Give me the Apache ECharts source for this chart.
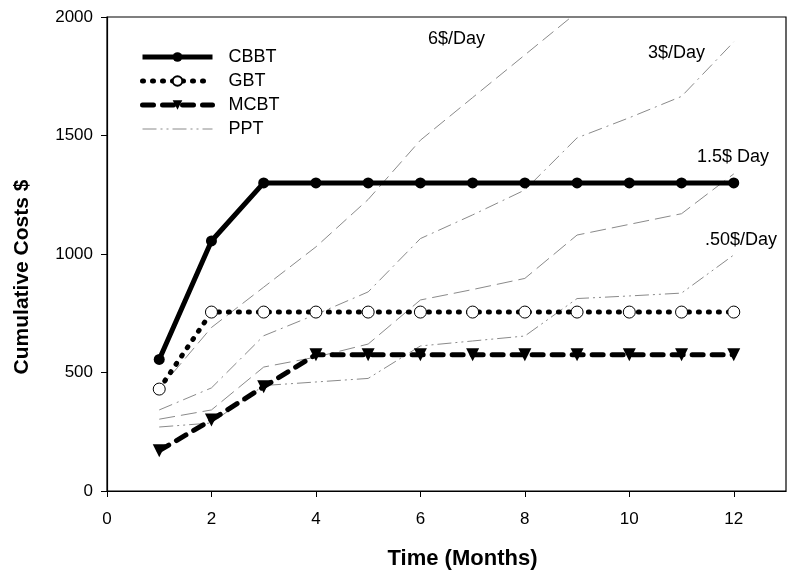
<!DOCTYPE html>
<html><head><meta charset="utf-8">
<script src="https://cdn.jsdelivr.net/npm/echarts@6/dist/echarts.min.js"></script>
<style>html,body{margin:0;padding:0;background:#fff}#c{width:794px;height:579px}</style>
</head><body><div id="c"></div>
<script>
const months = [1,2,3,4,5,6,7,8,9,10,11,12];
const cbbt = [555,1055,1300,1300,1300,1300,1300,1300,1300,1300,1300,1300];
const gbt = [430,755,755,755,755,755,755,755,755,755,755,755];
const mcbt = [170,300,440,575,575,575,575,575,575,575,575,575];
const ppt6 = [430,690,860,1030,1230,1480,1660,1840,2020];
const ppt3 = [342,435,655,745,840,1065,1165,1270,1490,1575,1665,1895];
const ppt15 = [303,342,523,565,620,806,850,897,1080,1125,1170,1338];
const ppt05 = [270,287,445,460,475,612,633,654,812,823,835,996];
const yTicks = [0,500,1000,1500,2000];
const xTicks = [0,2,4,6,8,10,12];
const pptLabels = ['6$/Day','3$/Day','1.5$ Day','.50$/Day'];

const pair = (v) => v.map((y,i)=>[months[i],y]);
const FONT = 'Liberation Sans, Arial, sans-serif';
const grey = '#8a8a8a';
const gbtDash = [1,9];
const mcbtDash = [11,9];
const pptDash = [14,4,2,4,2,4];
const chart = echarts.init(document.getElementById('c'));
chart.setOption({
  animation:false,
  backgroundColor:'#fff',
  textStyle:{fontFamily:FONT},
  grid:{left:107,right:8,top:17,bottom:88,show:true,borderColor:'#000',borderWidth:1.2,backgroundColor:'transparent'},
  legend:{
    left:135, top:43, orient:'vertical', itemWidth:70, itemHeight:12, itemGap:6,
    data:[
      {name:'CBBT',lineStyle:{width:5,color:'#000'}},
      {name:'GBT',lineStyle:{width:5,color:'#000',type:gbtDash,cap:'round'}},
      {name:'MCBT',lineStyle:{width:5,color:'#000',type:mcbtDash,cap:'round'}},
      {name:'PPT',itemStyle:{opacity:0},lineStyle:{width:1,color:grey,type:pptDash}}
    ],
    textStyle:{fontSize:18,color:'#000',fontFamily:FONT,padding:[0,0,0,11]}
  },
  xAxis:{type:'value',min:0,max:13,interval:2,
    name:'Time (Months)',nameLocation:'middle',nameGap:57,
    nameTextStyle:{fontSize:22,fontWeight:'bold',color:'#000',fontFamily:FONT,padding:[0,0,0,32]},
    axisLine:{show:true,onZero:false,lineStyle:{color:'#000',width:1.2}},
    axisTick:{show:true,length:6,lineStyle:{color:'#000'}},
    splitLine:{show:false},
    axisLabel:{fontSize:17,color:'#000',margin:20,showMaxLabel:false,
      formatter:(v)=> xTicks.includes(v)? String(v):''}
  },
  yAxis:{type:'value',min:0,max:2000,interval:500,
    name:'Cumulative Costs $',nameLocation:'middle',nameGap:74,
    nameTextStyle:{fontSize:21,fontWeight:'bold',color:'#000',fontFamily:FONT,padding:[0,46,0,0]},
    axisLine:{show:true,lineStyle:{color:'#000',width:1.2}},
    axisTick:{show:true,length:6,lineStyle:{color:'#000'}},
    splitLine:{show:false},
    axisLabel:{fontSize:17,color:'#000',margin:14,
      formatter:(v)=> yTicks.includes(v)? String(v):''}
  },
  series:[
    {name:'PPT 6',type:'line',data:pair(ppt6),symbol:'none',clip:true,z:1,
      lineStyle:{color:grey,width:1,type:[14,6]}},
    {name:'PPT 3',type:'line',data:pair(ppt3),symbol:'none',clip:true,z:1,
      lineStyle:{color:grey,width:1,type:[14,5,2,5]}},
    {name:'PPT 1.5',type:'line',data:pair(ppt15),symbol:'none',clip:true,z:1,
      lineStyle:{color:grey,width:1,type:[16,6]}},
    {name:'PPT',type:'line',data:pair(ppt05),symbol:'none',clip:true,z:1,
      itemStyle:{color:grey},
      lineStyle:{color:grey,width:1,type:pptDash}},
    {name:'CBBT',type:'line',data:pair(cbbt),symbol:'circle',symbolSize:11,z:3,
      itemStyle:{color:'#000'},lineStyle:{color:'#000',width:5}},
    {name:'GBT',type:'line',data:pair(gbt),symbol:'circle',symbolSize:12,z:3,
      itemStyle:{color:'#fff',borderColor:'#000',borderWidth:1},
      lineStyle:{color:'#000',width:5,type:gbtDash,cap:'round'}},
    {name:'MCBT',type:'line',data:pair(mcbt),symbol:'triangle',symbolRotate:180,symbolSize:13,z:3,
      itemStyle:{color:'#000'},lineStyle:{color:'#000',width:5,type:mcbtDash,cap:'round'}}
  ],
  graphic:[
    {type:'text',left:428,top:30,style:{text:pptLabels[0],fontSize:18,fill:'#000',fontFamily:FONT}},
    {type:'text',left:648,top:44,style:{text:pptLabels[1],fontSize:18,fill:'#000',fontFamily:FONT}},
    {type:'text',left:697,top:148,style:{text:pptLabels[2],fontSize:18,fill:'#000',fontFamily:FONT}},
    {type:'text',left:705,top:231,style:{text:pptLabels[3],fontSize:18,fill:'#000',fontFamily:FONT}}
  ]
});
</script></body></html>
